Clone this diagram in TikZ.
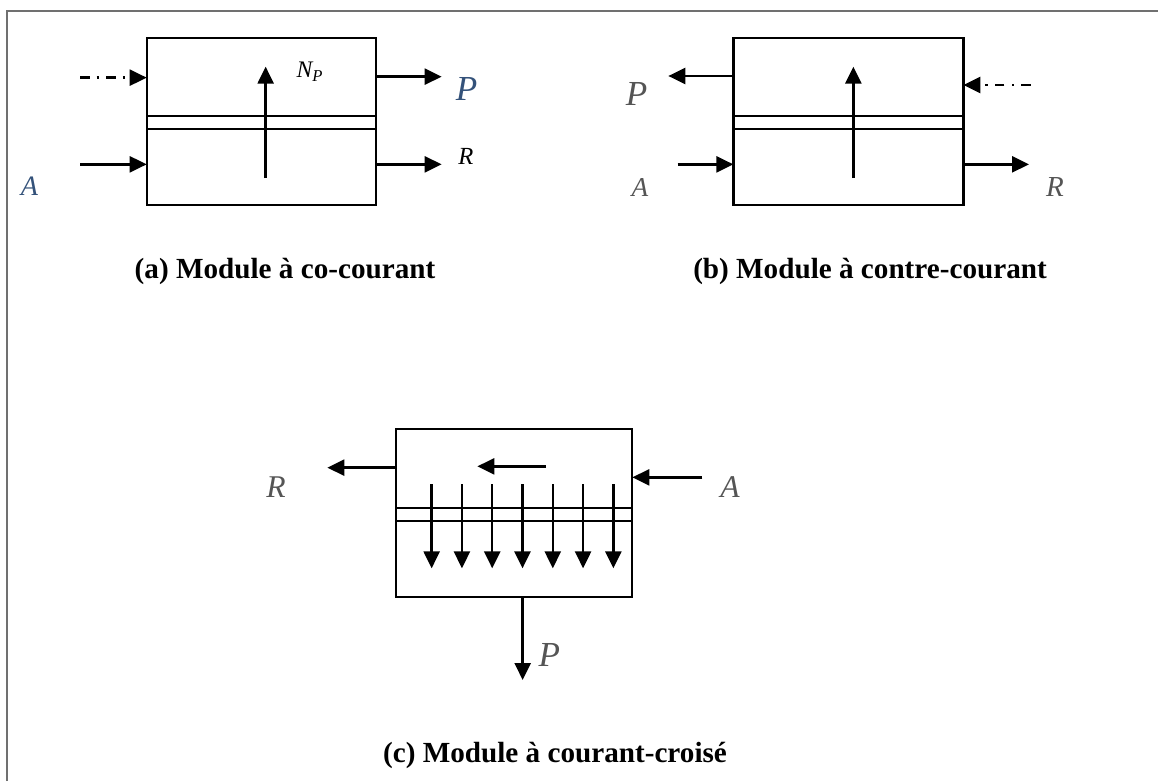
\documentclass[tikz,border=0pt]{standalone}
\usepackage{fontspec}
\setmainfont{Liberation Serif}
\usepackage{xcolor}
\usetikzlibrary{arrows.meta, calc}

\definecolor{labgray}{RGB}{85,85,85}
\definecolor{labblue}{RGB}{52,82,122}
\definecolor{framegray}{RGB}{112,112,112}

\tikzset{
  module/.style={draw, line width=1.3pt, rectangle, inner sep=0pt, outer sep=0pt,
                 minimum width=#1, minimum height=3.346cm},
  wall/.style={line width=1.3pt},
  flow/.style={-{Triangle[length=0.34cm,width=0.32cm]}, line width=1.4pt},
  sweep/.style={flow, dash pattern=on 5.5pt off 4pt on 1.4pt off 4pt},
  lab/.style={font=\fontsize{15.5}{18}\selectfont\itshape, text=labgray, inner sep=0pt},
  caption/.style={font=\fontsize{16.6}{20}\selectfont\bfseries, inner sep=0pt}
}

\begin{document}
\begin{tikzpicture}

\useasboundingbox (0,0) rectangle (23.16,-15.62);

%-- page frame (top and left only)
\draw[framegray, line width=1.1pt] (0.14,-15.62) -- (0.14,-0.22) -- (23.16,-0.22);

%-- (a) co-current
\node[module=4.586cm] (modA) at (5.227,-2.427) {};
\draw[wall] (modA.west |- 0,-2.32) -- (modA.east |- 0,-2.32);
\draw[wall] (modA.west |- 0,-2.58) -- (modA.east |- 0,-2.58);

\coordinate (sweepA) at (1.6,-1.553);
\coordinate (feedA)  at (1.6,-3.287);
\coordinate (permA)  at (8.833,-1.533);
\coordinate (retA)   at (8.833,-3.287);
\coordinate (fluxAs) at (5.313,-3.56);
\coordinate (fluxAe) at (5.313,-1.333);

\draw[sweep] (sweepA) -- (sweepA -| modA.west);
\draw[flow]  (feedA) -- (feedA -| modA.west);
\draw[flow]  (permA -| modA.east) -- (permA);
\draw[flow]  (retA -| modA.east) -- (retA);
\draw[flow]  (fluxAs) -- (fluxAe);

\node[lab, text=black, font=\fontsize{13.5}{16}\selectfont\itshape] (npA) at (6.2,-1.44) {N\textsubscript{P}};
\node[lab, text=labblue, font=\fontsize{20}{23}\selectfont\itshape] (pA) at (9.333,-1.78) {P};
\node[lab, text=black, font=\fontsize{14}{16}\selectfont\itshape] (rA) at (9.32,-3.12) {R};
\node[lab, text=labblue, font=\fontsize{16}{19}\selectfont\itshape] (aA) at (0.587,-3.733) {A};
\node[caption] (capA) at (5.7,-5.433) {(a) Module à co-courant};

%-- (b) counter-current
\node[module=4.6cm] (modB) at (16.967,-2.427) {};
\draw[wall] (modB.west |- 0,-2.32) -- (modB.east |- 0,-2.32);
\draw[wall] (modB.west |- 0,-2.58) -- (modB.east |- 0,-2.58);

\coordinate (permB)  at (13.367,-1.52);
\coordinate (feedB)  at (13.553,-3.287);
\coordinate (sweepB) at (20.613,-1.7);
\coordinate (retB)   at (20.58,-3.287);
\coordinate (fluxBs) at (17.067,-3.56);
\coordinate (fluxBe) at (17.067,-1.333);

\draw[flow]  (permB -| modB.west) -- (permB);
\draw[flow]  (feedB) -- (feedB -| modB.west);
\draw[sweep] (sweepB) -- (sweepB -| modB.east);
\draw[flow]  (retB -| modB.east) -- (retB);
\draw[flow]  (fluxBs) -- (fluxBe);

\node[lab, font=\fontsize{20}{23}\selectfont\itshape] (pB) at (12.733,-1.887) {P};
\node[lab] (aB) at (12.8,-3.747) {A};
\node[lab, font=\fontsize{16.5}{19}\selectfont\itshape] (rB) at (21.1,-3.74) {R};
\node[caption] (capB) at (17.4,-5.433) {(b) Module à contre-courant};

%-- (c) cross-flow
\node[module=4.733cm] (modC) at (10.28,-10.26) {};
\draw[wall] (modC.west |- 0,-10.153) -- (modC.east |- 0,-10.153);
\draw[wall] (modC.west |- 0,-10.413) -- (modC.east |- 0,-10.413);

\foreach \i in {0,...,6}
  \draw[flow] ({8.633+0.6057*\i},-9.68) -- ({8.633+0.6057*\i},-11.367);

\coordinate (innerCs) at (10.92,-9.327);
\coordinate (innerCe) at (9.547,-9.327);
\coordinate (retC)    at (6.547,-9.353);
\coordinate (feedC)   at (14.047,-9.547);
\coordinate (permC)   at (10.453,-13.6);

\draw[flow] (innerCs) -- (innerCe);
\draw[flow] (retC -| modC.west) -- (retC);
\draw[flow] (feedC) -- (feedC -| modC.east);
\draw[flow] (permC |- modC.south) -- (permC);

\node[lab, font=\fontsize{18}{21}\selectfont\itshape] (rC) at (5.52,-9.747) {R};
\node[lab, font=\fontsize{18}{21}\selectfont\itshape] (aC) at (14.6,-9.747) {A};
\node[lab, font=\fontsize{20}{23}\selectfont\itshape] (pC) at (10.987,-13.1) {P};
\node[caption] (capC) at (11.1,-15.1) {(c) Module à courant-croisé};

\end{tikzpicture}
\end{document}
